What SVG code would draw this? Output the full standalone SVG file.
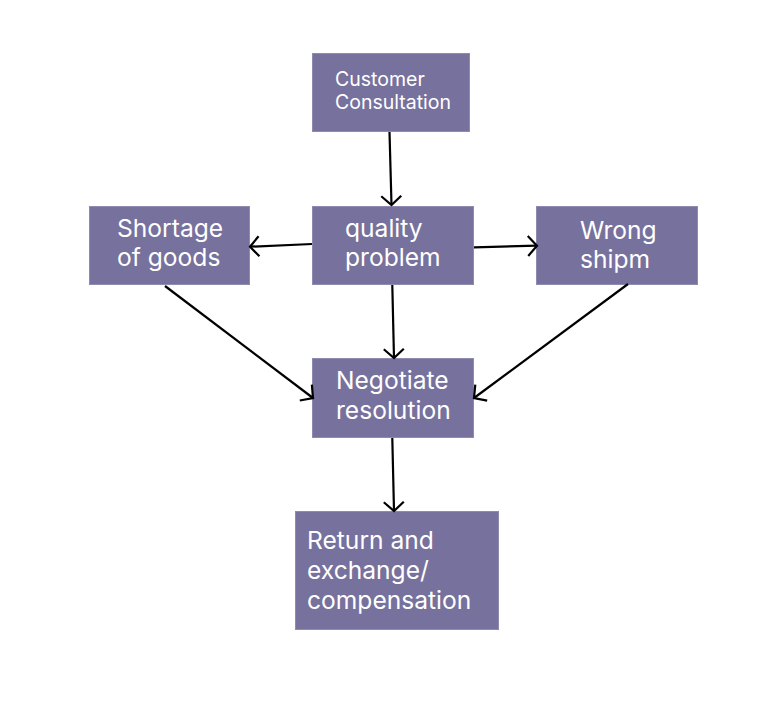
<svg xmlns="http://www.w3.org/2000/svg" width="781" height="701" viewBox="0 0 781 701">
<defs>
<style>
.box{fill:#77719d;stroke:#8f8ab0;stroke-width:1}
.t{fill:#ffffff;font-family:Inter,"Noto Sans","Liberation Sans",sans-serif;font-size:24.6px}
.ts{fill:#ffffff;font-family:Inter,"Noto Sans","Liberation Sans",sans-serif;font-size:19.5px}
.c{stroke:#000;stroke-width:2.2;fill:none}
</style>
<marker id="ah" markerUnits="userSpaceOnUse" markerWidth="24" markerHeight="24" viewBox="-12 -12 24 24" refX="0" refY="0" orient="auto">
<path d="M-9,-10 L0,0 L-9,10" fill="none" stroke="#000" stroke-width="2.2"/>
</marker>
</defs>
<rect width="781" height="701" fill="#ffffff"/>
<g id="n-customer">
<rect class="box" x="312.5" y="53.5" width="157" height="78"/>
<text class="ts"><tspan x="335" y="86">Customer</tspan><tspan x="335" y="109">Consultation</tspan></text>
</g>
<g id="n-quality">
<rect class="box" x="312.5" y="206.5" width="161" height="78"/>
<text class="t"><tspan x="345" y="237">quality</tspan><tspan x="345" y="266">problem</tspan></text>
</g>
<g id="n-shortage">
<rect class="box" x="89.5" y="206.5" width="160" height="78"/>
<text class="t"><tspan x="117" y="237">Shortage</tspan><tspan x="117" y="266">of goods</tspan></text>
</g>
<g id="n-wrong">
<rect class="box" x="536.5" y="206.5" width="161" height="78"/>
<text class="t"><tspan x="580" y="239">Wrong</tspan><tspan x="580" y="268">shipm</tspan></text>
</g>
<g id="n-negotiate">
<rect class="box" x="312.5" y="358.5" width="161" height="79"/>
<text class="t"><tspan x="336" y="389">Negotiate</tspan><tspan x="336" y="419">resolution</tspan></text>
</g>
<g id="n-return">
<rect class="box" x="295.5" y="511.5" width="203" height="118"/>
<text class="t"><tspan x="307" y="549">Return and</tspan><tspan x="307" y="579">exchange/</tspan><tspan x="307" y="609">compensation</tspan></text>
</g>
<g id="connectors">
<line class="c" x1="389.5" y1="132" x2="391.5" y2="205" marker-end="url(#ah)"/>
<line class="c" x1="312" y1="244" x2="250" y2="246.7" marker-end="url(#ah)"/>
<line class="c" x1="474" y1="247.3" x2="537" y2="245.7" marker-end="url(#ah)"/>
<line class="c" x1="392.3" y1="285" x2="394" y2="358" marker-end="url(#ah)"/>
<line class="c" x1="165" y1="286" x2="313" y2="398" marker-end="url(#ah)"/>
<line class="c" x1="628" y1="284" x2="474" y2="398" marker-end="url(#ah)"/>
<line class="c" x1="392.3" y1="438" x2="394" y2="511" marker-end="url(#ah)"/>
</g>
</svg>
